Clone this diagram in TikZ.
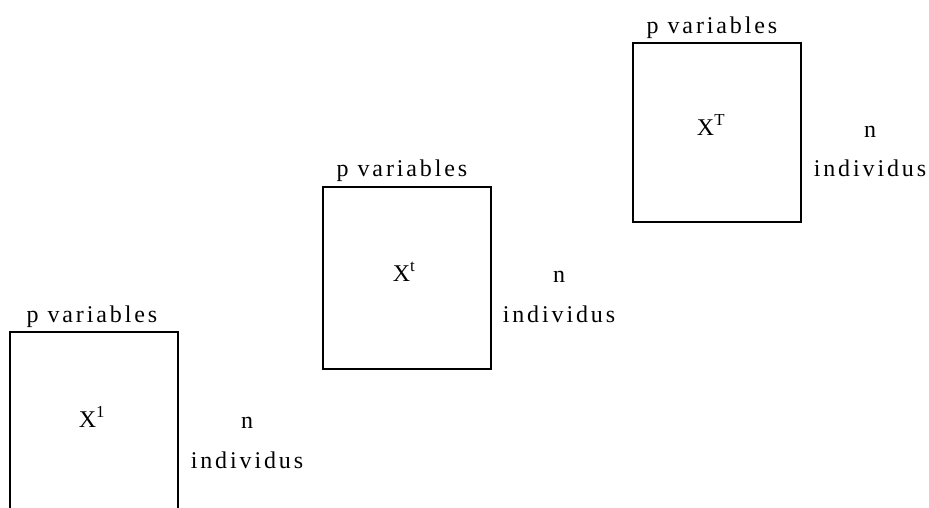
\documentclass[tikz,border=0pt]{standalone}
\usepackage{fontspec}
\setmainfont{Liberation Serif}[LetterSpace=12]
\begin{document}
\begin{tikzpicture}[x=1pt,y=-1pt,
  lbl/.style={font=\fontsize{24}{28}\selectfont, inner sep=0pt, anchor=base},
  boxline/.style={line width=2pt, line join=miter}]
\useasboundingbox (0,0) rectangle (929,507);
% box 1 (open at bottom)
\coordinate (b1bl) at (10,508);
\coordinate (b1tl) at (10,332);
\coordinate (b1tr) at (178,332);
\coordinate (b1br) at (178,508);
\draw[boxline] (b1bl) -- (b1tl) -- (b1tr) -- (b1br);
% box 2
\coordinate (b2tl) at (323,187);
\coordinate (b2br) at (491,369);
\draw[boxline] (b2tl) rectangle (b2br);
% box 3
\coordinate (b3tl) at (633,43);
\coordinate (b3br) at (801,222);
\draw[boxline] (b3tl) rectangle (b3br);
% labels
\node[lbl] (pv1) at (92,322) {p variables};
\node[lbl] (pv2) at (402,176) {p variables};
\node[lbl] (pv3) at (712,33) {p variables};
\node[lbl] (x1) at (92,427) {X\textsuperscript{1}};
\node[lbl] (x2) at (404,281) {X\textsuperscript{t}};
\node[lbl] (x3) at (711,135) {X\textsuperscript{T}};
\node[lbl] (n1) at (247,428) {n};
\node[lbl] (n2) at (559,282) {n};
\node[lbl] (n3) at (870,137) {n};
\node[lbl] (i1) at (247,468) {individus};
\node[lbl] (i2) at (559,322) {individus};
\node[lbl] (i3) at (870,176) {individus};
\end{tikzpicture}
\end{document}
